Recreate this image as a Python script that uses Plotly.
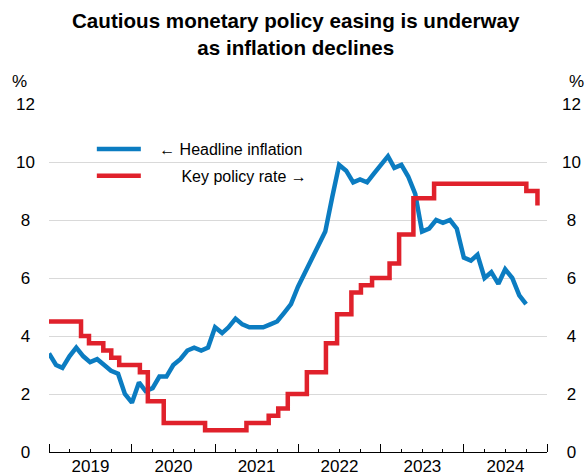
import plotly.graph_objects as go

# ---- Data ----
infl_months = [f"{y}-{m:02d}-01" for y in range(2019, 2025) for m in range(1, 13)][:70]
headline_inflation = [
    3.4, 3.0, 2.9, 3.3, 3.6, 3.3, 3.1, 3.2, 3.0, 2.8, 2.7, 2.0,
    1.7, 2.4, 2.1, 2.2, 2.6, 2.6, 3.0, 3.2, 3.5, 3.6, 3.5, 3.6,
    4.3, 4.1, 4.3, 4.6, 4.4, 4.3, 4.3, 4.3, 4.4, 4.5, 4.8, 5.1,
    5.7, 6.2, 6.7, 7.2, 7.6, 8.8, 9.9, 9.7, 9.3, 9.4, 9.3, 9.6,
    9.9, 10.2, 9.8, 9.9, 9.5, 8.9, 7.6, 7.7, 8.0, 7.9, 8.0, 7.7,
    6.7, 6.6, 6.8, 6.0, 6.2, 5.8, 6.3, 6.0, 5.4, 5.1,
]

rate_dates = [
    "2019-01-01", "2019-05-22", "2019-06-26", "2019-08-28", "2019-10-02", "2019-11-06",
    "2020-02-05", "2020-03-11", "2020-05-20", "2020-11-18",
    "2021-05-19", "2021-08-25", "2021-10-06", "2021-11-17",
    "2022-02-09", "2022-05-04", "2022-06-22", "2022-08-24", "2022-10-05", "2022-11-23",
    "2023-02-08", "2023-03-22", "2023-05-24", "2023-08-23",
    "2024-10-02", "2024-11-20",
]
key_policy_rate = [
    4.5, 4.0, 3.75, 3.5, 3.25, 3.0,
    2.75, 1.75, 1.0, 0.75,
    1.0, 1.25, 1.5, 2.0,
    2.75, 3.75, 4.75, 5.5, 5.75, 6.0,
    6.5, 7.5, 8.75, 9.25,
    9.0, 8.5,
]

y_ticks = [0, 2, 4, 6, 8, 10, 12]
left_tick_text = [("%d" % v) + ("\u00a0" if v < 10 else "") for v in y_ticks]
right_tick_text = [("\u00a0" if v < 10 else "") + ("%d" % v) for v in y_ticks]

BLUE = "#0B7CC1"
RED = "#E0212B"
FONT = "Liberation Sans, Arial, sans-serif"
NB = "\u00a0"

fig = go.Figure()
fig.add_trace(go.Scatter(
    x=infl_months, y=headline_inflation, mode="lines",
    name=NB * 3 + "\u2190 Headline inflation",
    line=dict(color=BLUE, width=4.5),
    legendgroup="a", yaxis="y",
))
fig.add_trace(go.Scatter(
    x=rate_dates, y=key_policy_rate, mode="lines",
    name=NB * 8 + "Key policy rate \u2192",
    line=dict(color=RED, width=4.5, shape="hv"),
    legendgroup="b", yaxis="y2",
))

fig.update_layout(
    width=585, height=475,
    margin=dict(l=49, r=38, t=104, b=23, autoexpand=False),
    paper_bgcolor="white", plot_bgcolor="white",
    font=dict(family=FONT, size=17, color="black"),
    showlegend=True,
    legend=dict(
        x=0.086, y=0.9194, xanchor="left", yanchor="top",
        bgcolor="rgba(0,0,0,0)", font=dict(size=16),
        traceorder="grouped", tracegroupgap=3, itemwidth=44,
    ),
    xaxis=dict(
        type="date", range=["2019-01-01", "2025-01-01"], automargin=False,
        tick0="2019-01-01", dtick="M12", ticklabelmode="period",
        tickformat="%Y", ticks="inside", ticklen=8, tickcolor="black",
        showline=True, linecolor="black", linewidth=1,
        showgrid=False, zeroline=False, ticklabelstandoff=-1,
        minor=dict(dtick="M3", tick0="2019-01-01", ticks="inside", ticklen=3, tickcolor="black", showgrid=False),
        tickfont=dict(size=17),
    ),
    yaxis=dict(
        range=[0, 12], tickmode="array", tickvals=y_ticks, ticktext=left_tick_text,
        showgrid=True, gridcolor="#D9D9D9", gridwidth=1, zeroline=False,
        ticks="", showline=False, ticklabelstandoff=13, automargin=False,
        tickfont=dict(size=17),
    ),
    yaxis2=dict(
        range=[0, 12], tickmode="array", tickvals=y_ticks, ticktext=right_tick_text,
        overlaying="y", side="right", showgrid=False, zeroline=False,
        ticks="", showline=False, ticklabelstandoff=14, automargin=False,
        tickfont=dict(size=17),
    ),
    annotations=[
        dict(text="<b>Cautious monetary policy easing is underway<br>as inflation declines</b>",
             xref="paper", yref="paper", x=0.495, y=1.278, xanchor="center", yanchor="top",
             showarrow=False, font=dict(family=FONT, size=20.6, color="black")),
        dict(text="%", xref="paper", yref="paper", x=-0.0594, y=1.064,
             xanchor="center", yanchor="middle", showarrow=False, font=dict(size=17)),
        dict(text="%", xref="paper", yref="paper", x=1.0602, y=1.064,
             xanchor="center", yanchor="middle", showarrow=False, font=dict(size=17)),
    ],
)

fig.write_html(
    "out.html",
    config={"displayModeBar": False},
    post_script="document.body.style.margin='0px';document.body.style.padding='0px';",
)
